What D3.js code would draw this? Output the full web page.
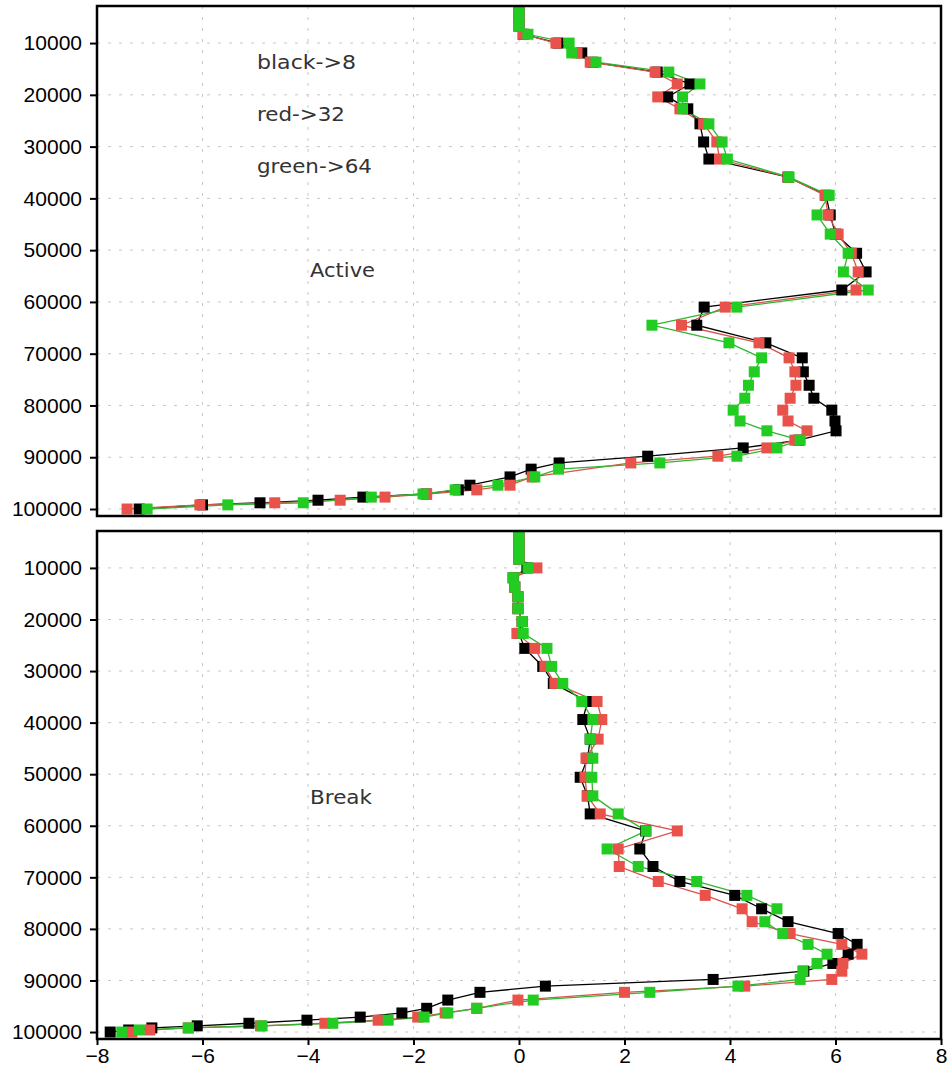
<!DOCTYPE html>
<html><head><meta charset="utf-8">
<script src="https://cdn.jsdelivr.net/npm/d3@7"></script>
<style>body{margin:0;background:#fff}svg{display:block}</style>
</head><body>
<script>
// pressure levels (Pa)
const levels = [3600, 5200, 6700, 8300, 10000, 11900, 13700, 15600, 17900, 20400, 22700, 25600, 29100, 32400, 35900, 39400, 43200, 46900, 50600, 54200, 57700, 61000, 64500, 67900, 70800, 73500, 76100, 78600, 80900, 83000, 84900, 86700, 88200, 89800, 91100, 92300, 93800, 95400, 96300, 97100, 97700, 98300, 98800, 99200, 99600, 100000];

// x values per level (null = no visible marker at that level)
const activeBlack = [0,0,0,0.08,0.74,1.19,1.4,2.62,3.24,2.82,3.2,3.43,3.5,3.6,5.1,5.82,5.9,6.0,6.4,6.58,6.12,3.51,3.37,4.68,5.37,5.39,5.5,5.59,5.93,5.99,6.01,5.3,4.25,2.44,0.76,0.23,-0.17,-0.93,-1.15,-1.76,-2.96,-3.81,-4.91,-6.0,null,-7.2];
const activeRed   = [0,0,0,0.08,0.7,1.1,1.35,2.58,3.0,2.63,3.05,3.5,3.75,3.8,5.1,5.8,5.86,6.05,6.3,6.43,6.39,3.91,3.08,4.55,5.12,5.23,5.25,5.14,5.0,5.1,5.46,5.23,4.7,3.77,2.12,null,0.25,-0.17,-0.8,-1.75,-2.54,-3.39,-4.63,-6.05,null,-7.43];
const activeGreen = [0,0,0,0.17,0.95,1.0,1.46,2.84,3.43,3.1,3.1,3.6,3.85,3.95,5.12,5.88,5.65,5.9,6.24,6.15,6.62,4.13,2.52,3.98,4.6,4.46,4.35,4.28,4.06,4.19,4.7,5.33,4.89,4.13,2.67,0.75,0.3,-0.4,-1.21,-1.82,-2.8,null,-4.09,-5.52,null,-7.05];

const breakBlack = [0,0,0,0,0.15,-0.11,-0.08,-0.02,-0.02,0.06,0.0,0.11,0.45,0.65,1.3,1.21,1.35,1.3,1.16,1.3,1.35,2.4,2.29,2.54,3.05,4.09,4.6,5.1,6.05,6.41,6.24,5.95,5.4,3.68,0.5,-0.74,-1.35,-1.75,-2.22,-3.01,-4.02,-5.12,-6.1,-6.96,-7.4,-7.75];
const breakRed   = [0,0,0,0,0.34,-0.11,-0.08,-0.02,-0.02,0.06,-0.04,0.3,0.49,0.68,1.48,1.57,1.5,1.27,1.25,1.29,1.54,3.0,1.88,1.9,2.64,3.53,4.23,4.42,5.14,6.12,6.5,6.14,6.12,5.93,4.28,2.0,-0.02,-0.8,-1.4,-1.92,-2.67,-3.68,-4.9,-6.27,-7.0,-7.34];
const breakGreen = [0,0,0,0,0.17,-0.11,-0.08,-0.02,-0.02,0.06,0.08,0.53,0.62,0.83,1.19,1.4,1.35,1.4,1.38,1.4,1.88,2.41,1.67,2.26,3.37,4.32,4.89,4.66,5.0,5.48,5.84,5.65,5.38,5.33,4.15,2.48,0.27,-0.8,-1.35,-1.8,-2.48,-3.53,-4.87,-6.27,-7.2,-7.53];

const yTicks = [10000,20000,30000,40000,50000,60000,70000,80000,90000,100000];
const xTicks = [-8,-6,-4,-2,0,2,4,6,8];
const legendLines = ["black->8","red->32","green->64"];
const legendWidths = [99, 88, 115];
const panelNames = ["Active","Break"];
const panelNameWidths = [65, 62];
const colors = ["#000000","#e8524a","#22cc22"];
const lineColors = ["#000000","#d9534c","#2fb52f"];

const W = 948, H = 1075;
const FONT = "'Liberation Sans', Arial, sans-serif";
const LABEL_FONT = "'DejaVu Sans', sans-serif";
const svg = d3.select("body").append("svg").attr("width", W).attr("height", H)
  .style("font-family", FONT);

const x = d3.scaleLinear().domain([-8, 8]).range([97, 941]);
const panels = [
  {top: 6, bottom: 516, series: [activeBlack, activeRed, activeGreen]},
  {top: 531, bottom: 1039, series: [breakBlack, breakRed, breakGreen]}
];

panels.forEach((p, pi) => {
  const y = d3.scaleLinear().domain([2840, 101350]).range([p.top, p.bottom]);
  const g = svg.append("g");
  const clipId = "clip" + pi;
  svg.append("clipPath").attr("id", clipId).append("rect")
    .attr("x", x.range()[0]).attr("y", p.top).attr("width", x.range()[1] - x.range()[0]).attr("height", p.bottom - p.top);

  // grid
  const grid = g.append("g").attr("stroke", "#c8c8c8").attr("stroke-width", 1).attr("stroke-dasharray", "3,8");
  grid.selectAll("line.h").data(yTicks).join("line").attr("class", "h")
    .attr("x1", x.range()[0]).attr("x2", x.range()[1]).attr("y1", d => y(d)).attr("y2", d => y(d));
  grid.selectAll("line.v").data(xTicks.slice(1, -1)).join("line").attr("class", "v")
    .attr("y1", p.top).attr("y2", p.bottom).attr("x1", d => x(d)).attr("x2", d => x(d));

  const plot = g.append("g").attr("clip-path", `url(#${clipId})`);
  const seriesPts = p.series.map(vals => vals.map((v, i) => [v, levels[i]]).filter(d => d[0] !== null));
  seriesPts.forEach((pts, si) => {
    plot.append("path").datum(pts)
      .attr("fill", "none").attr("stroke", lineColors[si]).attr("stroke-width", 1.3)
      .attr("d", d3.line().x(d => x(d[0])).y(d => y(d[1])));
  });
  seriesPts.forEach((pts, si) => {
    plot.append("g").selectAll("rect").data(pts).join("rect")
      .attr("x", d => x(d[0]) - 5.5).attr("y", d => y(d[1]) - 5.5)
      .attr("width", 11).attr("height", 11).attr("fill", colors[si]);
  });

  // left axis
  const ya = g.append("g").attr("transform", `translate(${x.range()[0]},0)`)
    .call(d3.axisLeft(y).tickValues(yTicks).tickSize(7).tickPadding(8).tickFormat(d3.format("d")));
  ya.select(".domain").remove();
  ya.selectAll("line").attr("stroke", "#000").attr("stroke-width", 2);
  ya.selectAll("text").attr("font-size", 21).attr("fill", "#000").attr("font-family", FONT);

  if (pi === 1) {
    const xa = g.append("g").attr("transform", `translate(0,${p.bottom})`)
      .call(d3.axisBottom(x).tickValues(xTicks).tickSize(6).tickPadding(3).tickFormat(d => d < 0 ? "\u2212" + Math.abs(d) : d));
    xa.select(".domain").remove();
    xa.selectAll("line").attr("stroke", "#000").attr("stroke-width", 2);
    xa.selectAll("text").attr("font-size", 21).attr("fill", "#000").attr("font-family", FONT);
  }

  // frame
  g.append("rect").attr("x", x.range()[0]).attr("y", p.top)
    .attr("width", x.range()[1] - x.range()[0]).attr("height", p.bottom - p.top)
    .attr("fill", "none").attr("stroke", "#000").attr("stroke-width", 2.5);

  g.append("text").attr("x", 310).attr("y", p.top + (pi === 0 ? 271 : 273))
    .attr("font-size", 19).attr("fill", "#333").attr("font-family", LABEL_FONT)
    .attr("textLength", panelNameWidths[pi]).attr("lengthAdjust", "spacingAndGlyphs")
    .text(panelNames[pi]);
});

svg.append("g").selectAll("text").data(legendLines).join("text")
  .attr("x", 257).attr("y", (d, i) => 69 + i * 52).attr("font-size", 19).attr("fill", "#333")
  .attr("font-family", LABEL_FONT)
  .attr("textLength", (d, i) => legendWidths[i]).attr("lengthAdjust", "spacingAndGlyphs")
  .text(d => d);
</script>
</body></html>
